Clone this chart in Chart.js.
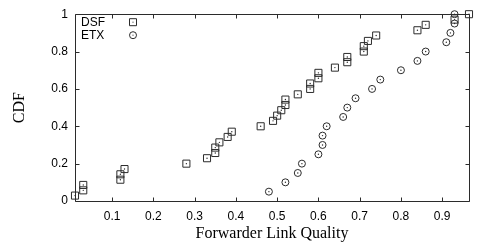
<!DOCTYPE html>
<html><head><meta charset="utf-8">
<script src="https://cdn.jsdelivr.net/npm/chart.js@4.4.0/dist/chart.umd.min.js"></script>
<style>html,body{margin:0;padding:0;background:#fff;}#wrap{width:478px;height:249px;position:relative;}</style>
</head><body><div id="wrap"><canvas id="c"></canvas></div>
<script>
const seriesNames = ['DSF', 'ETX'];
const dsfX = [0.01,0.03,0.03,0.12,0.12,0.13,0.28,0.33,0.35,0.35,0.36,0.38,0.39,0.46,0.49,0.50,0.51,0.52,0.52,0.55,0.58,0.58,0.60,0.60,0.64,0.67,0.67,0.71,0.71,0.72,0.74,0.84,0.86,0.93,0.965];
const dsfY = [0.029,0.057,0.086,0.114,0.143,0.171,0.2,0.229,0.257,0.286,0.314,0.343,0.371,0.4,0.429,0.457,0.486,0.514,0.543,0.571,0.6,0.629,0.657,0.686,0.714,0.743,0.771,0.8,0.829,0.857,0.886,0.914,0.943,0.971,1.0];
const etxX = [0.48,0.52,0.55,0.56,0.60,0.61,0.61,0.62,0.66,0.67,0.69,0.73,0.75,0.80,0.84,0.86,0.91,0.92,0.93,0.93];
const etxY = [0.05,0.10,0.15,0.20,0.25,0.30,0.35,0.40,0.45,0.50,0.55,0.60,0.65,0.70,0.75,0.80,0.85,0.90,0.95,1.0];
const xTicks = [0.1,0.2,0.3,0.4,0.5,0.6,0.7,0.8,0.9];
const yTicks = [0,0.2,0.4,0.6,0.8,1];
const xTitle = 'Forwarder Link Quality';
const yTitle = 'CDF';

const INK = '#2b2b2b';
const toPts = (xs, ys) => xs.map((x, i) => ({x, y: ys[i]}));

const framePlugin = {
  id: 'frame',
  beforeDatasetsDraw(chart) {
    const {ctx, chartArea: a, scales: {x, y}} = chart;
    const L = Math.round(a.left) + 0.5, R = Math.round(a.right) + 0.5;
    const T = Math.round(a.top) + 0.5, B = Math.round(a.bottom) + 0.5;
    ctx.save();
    ctx.strokeStyle = INK; ctx.lineWidth = 1;
    ctx.beginPath();
    ctx.rect(L, T, R - L, B - T);
    const tl = 4;
    xTicks.forEach(v => {
      const px = Math.round(x.getPixelForValue(v)) + 0.5;
      ctx.moveTo(px, B); ctx.lineTo(px, B - tl);
      ctx.moveTo(px, T); ctx.lineTo(px, T + tl);
    });
    yTicks.forEach(v => {
      const py = Math.round(y.getPixelForValue(v)) + 0.5;
      ctx.moveTo(L, py); ctx.lineTo(L + tl, py);
      ctx.moveTo(R, py); ctx.lineTo(R - tl, py);
    });
    ctx.stroke();
    ctx.restore();
  }
};

const legendPlugin = {
  id: 'keybox',
  afterDraw(chart) {
    const {ctx, chartArea: a} = chart;
    ctx.save();
    ctx.font = '12px "Liberation Sans", Arial, sans-serif';
    ctx.fillStyle = '#000';
    ctx.textBaseline = 'middle';
    ctx.textAlign = 'left';
    const rows = [{t: seriesNames[0], s: 'rect', y: a.top + 8}, {t: seriesNames[1], s: 'circle', y: a.top + 21}];
    rows.forEach(r => {
      ctx.fillText(r.t, a.left + 6, r.y);
      const mx = a.left + 58;
      ctx.strokeStyle = INK; ctx.lineWidth = 1;
      ctx.beginPath();
      if (r.s === 'rect') ctx.rect(mx - 3.5, r.y - 3.5, 7, 7);
      else ctx.arc(mx, r.y, 3.5, 0, Math.PI * 2);
      ctx.stroke();
      ctx.fillStyle = INK;
      ctx.fillRect(mx - 0.5, r.y - 0.5, 1, 1);
      ctx.fillStyle = '#000';
    });
    ctx.restore();
  }
};

new Chart(document.getElementById('c'), {
  type: 'scatter',
  data: {
    datasets: [
      {label: seriesNames[0], data: toPts(dsfX, dsfY), pointStyle: 'rect', pointRadius: 5, pointHoverRadius: 5,
       borderColor: INK, backgroundColor: 'rgba(0,0,0,0)', borderWidth: 1, clip: false},
      {label: seriesNames[1], data: toPts(etxX, etxY), pointStyle: 'circle', pointRadius: 3.5, pointHoverRadius: 3.5,
       borderColor: INK, backgroundColor: 'rgba(0,0,0,0)', borderWidth: 1, clip: false},
      {label: 'dsfDot', data: toPts(dsfX, dsfY), pointStyle: 'circle', pointRadius: 0.7, borderWidth: 0, backgroundColor: INK, clip: false},
      {label: 'etxDot', data: toPts(etxX, etxY), pointStyle: 'circle', pointRadius: 0.7, borderWidth: 0, backgroundColor: INK, clip: false}
    ]
  },
  options: {
    responsive: true, maintainAspectRatio: false, animation: false,
    devicePixelRatio: 1,
    layout: {padding: {left: 0, right: 9, top: 13, bottom: 0}},
    plugins: {legend: {display: false}, tooltip: {enabled: false}},
    events: [],
    scales: {
      x: {
        type: 'linear', min: 0.01, max: 0.965,
        grid: {display: false, drawTicks: false},
        border: {display: false},
        afterBuildTicks: s => { s.ticks = xTicks.map(v => ({value: v})); },
        afterFit: s => { s.height = 48; },
        ticks: {padding: 8, color: '#000', font: {family: '"Liberation Sans", Arial, sans-serif', size: 12},
                callback: v => String(Math.round(v * 10) / 10), maxRotation: 0, autoSkip: false},
        title: {display: true, text: xTitle, color: '#000', padding: {top: 0, bottom: 6},
                font: {family: '"Liberation Serif", "Times New Roman", serif', size: 16}}
      },
      y: {
        type: 'linear', min: 0, max: 1,
        grid: {display: false, drawTicks: false},
        border: {display: false},
        afterBuildTicks: s => { s.ticks = yTicks.map(v => ({value: v})); },
        afterFit: s => { s.width = 75; },
        ticks: {padding: 7, color: '#000', font: {family: '"Liberation Sans", Arial, sans-serif', size: 12},
                callback: v => String(Math.round(v * 10) / 10)},
        title: {display: true, text: yTitle, color: '#000', padding: {top: 10, bottom: 0},
                font: {family: '"Liberation Serif", "Times New Roman", serif', size: 16}}
      }
    }
  },
  plugins: [framePlugin, legendPlugin]
});
</script></body></html>
